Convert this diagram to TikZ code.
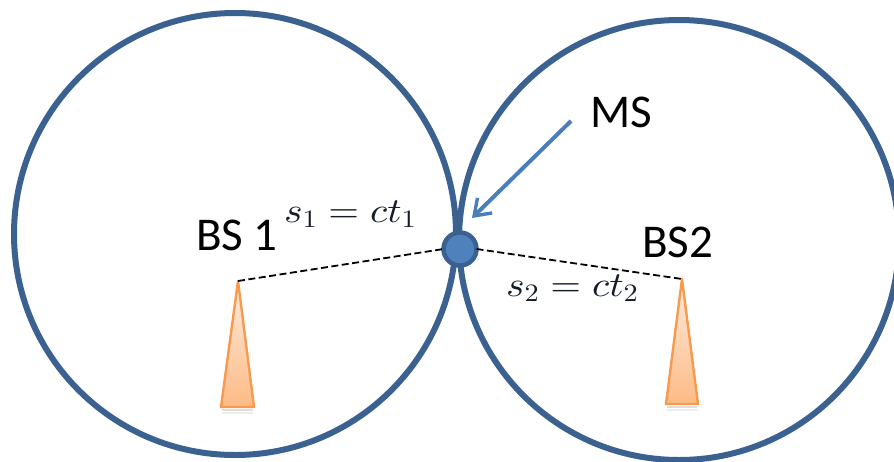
\documentclass[tikz,border=0pt]{standalone}
\usepackage{fontspec}
\setmainfont{Carlito}
\DeclareMathSizes{35}{35}{25}{18}
\DeclareFontShape{OML}{cmm}{m}{it}{<->cmmi10}{}
\DeclareFontShape{OT1}{cmr}{m}{n}{<-8.5>cmr8 <8.5->cmr10}{}
\DeclareFontShape{OMS}{cmsy}{m}{n}{<->cmsy10}{}
\usetikzlibrary{arrows.meta}
\definecolor{ringblue}{HTML}{3A6190}
\definecolor{dotblue}{HTML}{4F81BD}
\definecolor{arrowblue}{HTML}{4A7EBB}
\definecolor{towerline}{HTML}{F79A4E}
\definecolor{towertop}{HTML}{FDEBDD}
\definecolor{towerbot}{HTML}{FDBB86}
\definecolor{mathink}{HTML}{141C28}
\newcommand{\wideeq}[1]{\scalebox{1.13}[1]{$#1$}}
\tikzset{
  x=1pt,y=-1pt,
  cell/.style={circle,draw=ringblue,line width=6pt,outer sep=0pt,inner sep=0pt},
  msdot/.style={circle,draw=ringblue,fill=dotblue,line width=4.5pt,outer sep=0pt,minimum size=33pt,inner sep=0pt},
  lbl/.style={font=\fontsize{47}{54}\selectfont,text=black,inner sep=0pt},
  eqn/.style={font=\fontsize{35}{40}\selectfont,text=mathink,inner sep=0pt},
  rangeline/.style={black,line width=1.8pt,dash pattern=on 7pt off 3.5pt},
  tower/.style={draw=towerline,line width=2.4pt,line join=round,top color=towertop,bottom color=towerbot},
  toshadow/.style={line width=2pt,black,opacity=0.13},
  pointer/.style={arrowblue,line width=4pt,-{Straight Barb[length=15pt,width=21pt,line width=3.4pt]}}
}
\begin{document}
\begin{tikzpicture}
\useasboundingbox (0,0) rectangle (894,461);
\node[cell,minimum size=442pt] (c1) at (235,234) {};
\node[cell,minimum size=440pt] (c2) at (679,240) {};
\coordinate (a1) at (238,281);
\coordinate (a2) at (682,279);
\draw[toshadow] (222,410) -- (253,410);
\draw[toshadow,opacity=.07] (222,413) -- (253,413);
\draw[toshadow] (667,407) -- (697,407);
\draw[toshadow,opacity=.07] (667,410) -- (697,410);
\draw[tower] (a1) -- (221,407) -- (254,407) -- cycle;
\draw[tower] (a2) -- (666,404) -- (698,404) -- cycle;
\node[msdot] (ms) at (460,249) {};
\draw[rangeline] (a1) -- (ms.west);
\draw[rangeline] (ms.east) -- (a2);
\coordinate (ps) at (571,121);
\coordinate (pe) at (472,218);
\draw[pointer] (ps) -- (pe);
\node[lbl,anchor=base west] (mslbl) at (590,127) {MS};
\node[lbl,anchor=base west] (bs1) at (196,250) {BS 1};
\node[lbl,anchor=base west] (bs2) at (642,257) {BS2};
\node[eqn,anchor=base west] (e1) at (284,222) {\wideeq{s_1 = ct_1}};
\node[eqn,anchor=base west] (e2) at (506,296) {\wideeq{s_2 = ct_2}};
\end{tikzpicture}
\end{document}
